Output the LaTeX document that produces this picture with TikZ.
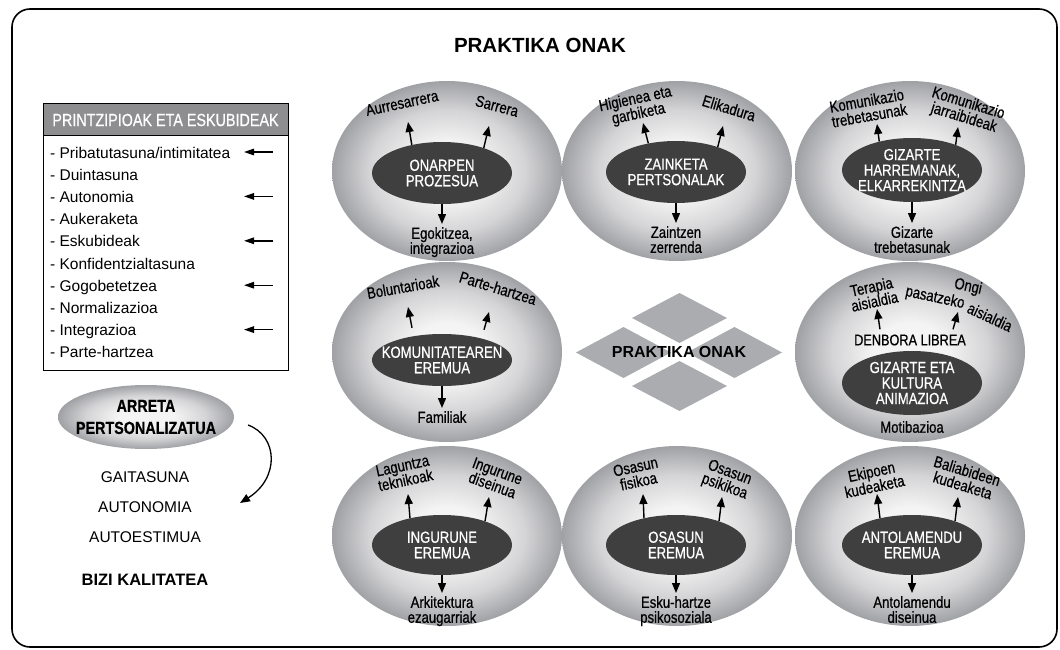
\documentclass[tikz,border=0pt]{standalone}
\usepackage{fontspec}
\setmainfont{Liberation Sans}
\newfontfamily\narrowf{Liberation Sans}[FakeStretch=0.82,FakeBold=0.6]
\usetikzlibrary{shapes.geometric,arrows.meta}

\definecolor{rimgray}{HTML}{A0A1A5}
\definecolor{midgray}{HTML}{D4D4D6}
\definecolor{coregray}{HTML}{F4F4F4}
\definecolor{darkoval}{HTML}{3F3F3F}
\definecolor{tilegray}{HTML}{ABACAF}
\definecolor{headgray}{HTML}{8E8E90}

\pgfdeclareradialshading{ovalshade}{\pgfpoint{0bp}{0bp}}{%
  color(0bp)=(coregray); color(8bp)=(coregray); color(17bp)=(midgray);
  color(25bp)=(rimgray); color(50bp)=(rimgray)}

\tikzset{
  bigoval/.style={ellipse, minimum width=230pt, minimum height=180pt, inner sep=0pt, shading=ovalshade},
  coreoval/.style={ellipse, fill=darkoval, text=white, minimum width=140pt, minimum height=62pt,
    inner xsep=-12pt, inner ysep=-4pt, align=center, font=\narrowf\fontsize{16}{15.5}\selectfont},
  smalltxt/.style={inner sep=0pt, align=center, font=\narrowf\fontsize{16}{15}\selectfont},
  narrowtxt/.style={inner sep=0pt, align=center, font=\narrowf\fontsize{15.5}{18}\selectfont},
  uparr/.style={line width=1.4pt, -{Triangle[length=10pt,width=8pt]}},
  leftarr/.style={line width=1.4pt, -{Triangle[length=10pt,width=6.5pt]}},
  listtxt/.style={inner sep=0pt, anchor=base west, font=\fontsize{15.5}{18}\selectfont},
  plaintxt/.style={inner sep=0pt, font=\fontsize{15.5}{18}\selectfont},
  tile/.style={fill=tilegray},
}

\begin{document}
\begin{tikzpicture}[x=1pt,y=-1pt]
\useasboundingbox (0,0) rectangle (1060,650);

% outer frame and title
\draw[line width=1.6pt, rounded corners=18pt] (12,9) rectangle (1057,647);
\node[inner sep=0pt, font=\bfseries\fontsize{20.5}{24}\selectfont] (title) at (540,45) {PRAKTIKA ONAK};

% principles and rights list
\fill[headgray] (43,104) rectangle (288,135);
\draw[line width=1pt] (43,104) rectangle (288,370);
\draw[line width=0.8pt] (43,135) -- (288,135);
\node[inner sep=0pt, text=white, font=\narrowf\fontsize{17.5}{20}\selectfont] (phead) at (165.5,120) {PRINTZIPIOAK ETA ESKUBIDEAK};
\node[listtxt] (item1) at (50,158.0) {- Pribatutasuna/intimitatea};
\node[listtxt] (item2) at (50,180.2) {- Duintasuna};
\node[listtxt] (item3) at (50,202.4) {- Autonomia};
\node[listtxt] (item4) at (50,224.6) {- Aukeraketa};
\node[listtxt] (item5) at (50,246.8) {- Eskubideak};
\node[listtxt] (item6) at (50,269.0) {- Konfidentzialtasuna};
\node[listtxt] (item7) at (50,291.2) {- Gogobetetzea};
\node[listtxt] (item8) at (50,313.4) {- Normalizazioa};
\node[listtxt] (item9) at (50,335.6) {- Integrazioa};
\node[listtxt] (item10) at (50,357.8) {- Parte-hartzea};
\coordinate (ls1) at (273,152.0); \coordinate (le1) at (244,152.0);
\coordinate (ls3) at (273,196.4); \coordinate (le3) at (244,196.4);
\coordinate (ls5) at (273,240.8); \coordinate (le5) at (244,240.8);
\coordinate (ls7) at (273,285.2); \coordinate (le7) at (244,285.2);
\coordinate (ls9) at (273,329.6); \coordinate (le9) at (244,329.6);
\draw[leftarr] (ls1) -- (le1);
\draw[leftarr] (ls3) -- (le3);
\draw[leftarr] (ls5) -- (le5);
\draw[leftarr] (ls7) -- (le7);
\draw[leftarr] (ls9) -- (le9);

% personalised attention
\node[ellipse, shading=ovalshade, minimum width=176pt, minimum height=64pt, inner xsep=-14pt, inner ysep=-6pt,
  align=center, font=\narrowf\bfseries\fontsize{17.5}{22}\selectfont] (arreta) at (146,417) {ARRETA\\PERTSONALIZATUA};
\coordinate (cs) at (248,425);
\coordinate (ce) at (240,503);
\draw[line width=1.3pt, -{Triangle[length=10pt,width=8pt]}] (cs) .. controls (278,436) and (280,478) .. (ce);
\node[plaintxt] (gait) at (145,477) {GAITASUNA};
\node[plaintxt] (auton) at (145,507) {AUTONOMIA};
\node[plaintxt] (autoe) at (145,537) {AUTOESTIMUA};
\node[inner sep=0pt, font=\bfseries\fontsize{16.5}{20}\selectfont] (bizi) at (145,580) {BIZI KALITATEA};

% shaded areas
\node[bigoval] (Abig) at (447,171) {};
\node[bigoval] (Bbig) at (677,171) {};
\node[bigoval] (Cbig) at (910,171) {};
\node[bigoval] (Dbig) at (447,352) {};
\node[bigoval] (Ebig) at (910,352) {};
\node[bigoval] (Fbig) at (447,536) {};
\node[bigoval] (Gbig) at (677,536) {};
\node[bigoval] (Hbig) at (910,536) {};

% centre tiles
\fill[tile] (679.5,293) -- (727,318) -- (679.5,343) -- (632,318) -- cycle;
\fill[tile] (623.5,327) -- (671,352.5) -- (623.5,378) -- (576,352.5) -- cycle;
\fill[tile] (734.5,327) -- (782,352.5) -- (734.5,378) -- (687,352.5) -- cycle;
\fill[tile] (679.5,361) -- (727,386) -- (679.5,411) -- (632,386) -- cycle;
\node[inner sep=0pt, font=\bfseries\fontsize{16}{19}\selectfont] (mid) at (679,352) {PRAKTIKA ONAK};

% ONARPEN PROZESUA
\node[coreoval] (Acore) at (442,173) {ONARPEN\\PROZESUA};
\node[smalltxt, rotate=12] (Al) at (402,103) {Aurresarrera};
\node[smalltxt, rotate=-15] (Ar) at (497,106) {Sarrera};
\coordinate (Alt) at (408,122);
\coordinate (Art) at (489,126);
\draw[uparr] (Acore.137) -- (Alt);
\draw[uparr] (Acore.31) -- (Art);
\node[smalltxt, anchor=north] (Ab) at (442,227) {Egokitzea,\\integrazioa};
\draw[uparr] (Acore.south) -- ([yshift=3pt]Ab.north);

% ZAINKETA PERTSONALAK
\node[coreoval] (Bcore) at (676,172) {ZAINKETA\\PERTSONALAK};
\node[smalltxt, rotate=12] (Bl) at (637,107) {Higienea eta\\garbiketa};
\node[smalltxt, rotate=-17] (Br) at (729,108) {Elikadura};
\coordinate (Blt) at (643,123);
\coordinate (Brt) at (723,126);
\draw[uparr] (Bcore.134) -- (Blt);
\draw[uparr] (Bcore.31) -- (Brt);
\node[smalltxt, anchor=north] (Bb) at (676,226) {Zaintzen\\zerrenda};
\draw[uparr] (Bcore.south) -- ([yshift=3pt]Bb.north);

% GIZARTE HARREMANAK
\node[coreoval, minimum height=64pt] (Ccore) at (912,170) {GIZARTE\\HARREMANAK,\\ELKARREKINTZA};
\node[smalltxt, rotate=10] (Cl) at (868,108) {Komunikazio\\trebetasunak};
\node[smalltxt, rotate=-17] (Cr) at (966,111) {Komunikazio\\jarraibideak};
\coordinate (Clt) at (877,124);
\coordinate (Crt) at (958,127);
\draw[uparr] (Ccore.139) -- (Clt);
\draw[uparr] (Ccore.30) -- (Crt);
\node[smalltxt, anchor=north] (Cb) at (912,226) {Gizarte\\trebetasunak};
\draw[uparr] (Ccore.south) -- ([yshift=3pt]Cb.north);

% KOMUNITATEAREN EREMUA
\node[coreoval, minimum height=52pt] (Dcore) at (442,360) {KOMUNITATEAREN\\EREMUA};
\node[smalltxt, rotate=10] (Dl) at (403,287) {Boluntarioak};
\node[smalltxt, rotate=-17] (Dr) at (498,288) {Parte-hartzea};
\coordinate (Dlt) at (408,307);
\coordinate (Drt) at (489,312);
\draw[uparr] ([xshift=-30pt,yshift=6pt]Dcore.north) -- (Dlt);
\draw[uparr] ([xshift=42pt,yshift=4pt]Dcore.north) -- (Drt);
\node[smalltxt, anchor=north] (Db) at (442,411) {Familiak};
\draw[uparr] (Dcore.south) -- ([yshift=3pt]Db.north);

% GIZARTE ETA KULTURA ANIMAZIOA
\node[coreoval, minimum height=64pt] (Ecore) at (912,383) {GIZARTE ETA\\KULTURA\\ANIMAZIOA};
\node[narrowtxt] (Eden) at (910,340) {DENBORA LIBREA};
\node[smalltxt, rotate=12] (El) at (873,294) {Terapia\\aisialdia};
\node[smalltxt, rotate=-12] (Eo) at (968,287) {Ongi};
\node[smalltxt, rotate=-12] (Ep) at (935,298) {pasatzeko};
\node[smalltxt, rotate=-25] (Ea) at (990,317) {aisialdia};
\coordinate (Elt) at (877,309);
\coordinate (Ert) at (958,312);
\draw[uparr] ([xshift=-30pt,yshift=5pt]Eden.north) -- (Elt);
\draw[uparr] ([xshift=43pt,yshift=5pt]Eden.north) -- (Ert);
\node[smalltxt] (Em) at (912,427) {Motibazioa};

% INGURUNE EREMUA
\node[coreoval, minimum height=60pt] (Fcore) at (442,545) {INGURUNE\\EREMUA};
\node[smalltxt, rotate=12] (Fl) at (404,473) {Laguntza\\teknikoak};
\node[smalltxt, rotate=-20] (Fr) at (495,478) {Ingurune\\diseinua};
\coordinate (Flt) at (408,494);
\coordinate (Frt) at (489,497);
\draw[uparr] (Fcore.140) -- (Flt);
\draw[uparr] (Fcore.29) -- (Frt);
\node[smalltxt, anchor=north] (Fb) at (442,596) {Arkitektura\\ezaugarriak};
\draw[uparr] (Fcore.south) -- ([yshift=3pt]Fb.north);

% OSASUN EREMUA
\node[coreoval, minimum height=60pt] (Gcore) at (676,545) {OSASUN\\EREMUA};
\node[smalltxt, rotate=12] (Gl) at (637,474) {Osasun\\fisikoa};
\node[smalltxt, rotate=-20] (Gr) at (727,480) {Osasun\\psikikoa};
\coordinate (Glt) at (643,494);
\coordinate (Grt) at (722,497);
\draw[uparr] (Gcore.140) -- (Glt);
\draw[uparr] (Gcore.29) -- (Grt);
\node[smalltxt, anchor=north] (Gb) at (676,596) {Esku-hartze\\psikosoziala};
\draw[uparr] (Gcore.south) -- ([yshift=3pt]Gb.north);

% ANTOLAMENDU EREMUA
\node[coreoval, minimum height=60pt] (Hcore) at (912,545) {ANTOLAMENDU\\EREMUA};
\node[smalltxt, rotate=12] (Hl) at (873,479) {Ekipoen\\kudeaketa};
\node[smalltxt, rotate=-17] (Hr) at (965,478) {Baliabideen\\kudeaketa};
\coordinate (Hlt) at (877,494);
\coordinate (Hrt) at (958,497);
\draw[uparr] (Hcore.140) -- (Hlt);
\draw[uparr] (Hcore.29) -- (Hrt);
\node[smalltxt, anchor=north] (Hb) at (912,596) {Antolamendu\\diseinua};
\draw[uparr] (Hcore.south) -- ([yshift=3pt]Hb.north);

\end{tikzpicture}
\end{document}
